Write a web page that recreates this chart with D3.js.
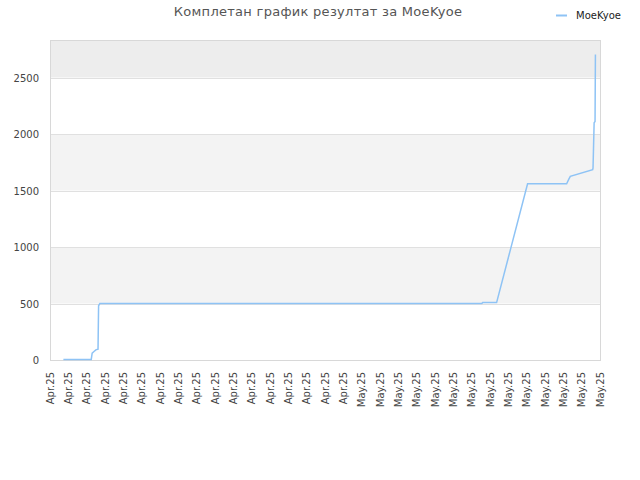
<!DOCTYPE html>
<html lang="sr">
<head>
<meta charset="utf-8">
<title>Комплетан график резултат за MoeKyoe</title>
<script src="https://cdn.jsdelivr.net/npm/d3@7"></script>
<style>
  body { margin: 0; background: #fff; }
  text { font-family: "DejaVu Sans", sans-serif; }
</style>
</head>
<body>
<div id="chart"></div>
<script>
// x tick labels (31 ticks, evenly spaced)
var xLabels = [
  "Apr.25","Apr.25","Apr.25","Apr.25","Apr.25","Apr.25","Apr.25","Apr.25",
  "Apr.25","Apr.25","Apr.25","Apr.25","Apr.25","Apr.25","Apr.25","Apr.25",
  "Apr.25","May.25","May.25","May.25","May.25","May.25","May.25","May.25",
  "May.25","May.25","May.25","May.25","May.25","May.25","May.25"
];
var yTicks = [0, 500, 1000, 1500, 2000, 2500];

// series, x in tick units
var seriesName = "MoeKyoe";
var xs = [0.73, 2.25, 2.3, 2.4, 2.5, 2.62, 2.65, 2.72, 23.55, 23.6, 24.36, 26.05, 28.18, 28.3, 28.38, 29.6, 29.62, 29.65, 29.68, 29.73, 29.75];
var ys = [5, 5, 60, 75, 90, 95, 480, 500, 500, 508, 508, 1560, 1560, 1600, 1625, 1684, 1700, 1900, 2100, 2110, 2704];

var W = 640, H = 480;
var m = {left: 50, right: 40, top: 40, bottom: 120};

var svg = d3.select("#chart").append("svg")
  .attr("width", W).attr("height", H);

var x = d3.scaleLinear().domain([0, xLabels.length - 1]).range([m.left, W - m.right]);
var y = d3.scaleLinear().domain([0, 2832]).range([H - m.bottom, m.top]);

// alternating bands
var bands = [];
for (var i = 0; i < yTicks.length; i++) {
  var lo = yTicks[i], hi = i + 1 < yTicks.length ? yTicks[i + 1] : y.domain()[1];
  bands.push({lo: lo, hi: hi, i: i});
}
svg.selectAll("rect.band").data(bands).enter().append("rect")
  .attr("class", "band")
  .attr("x", m.left)
  .attr("width", W - m.right - m.left)
  .attr("y", function(d) { return y(d.hi); })
  .attr("height", function(d) { return y(d.lo) - y(d.hi); })
  .attr("fill", function(d) {
    if (d.i == yTicks.length - 1) return "#ededed";
    return d.i % 2 ? "#f3f3f3" : "#fff";
  });

// grid lines
svg.selectAll("line.grid").data(yTicks).enter().append("line")
  .attr("x1", m.left).attr("x2", W - m.right)
  .attr("y1", function(d) { return Math.round(y(d)) + 0.5; })
  .attr("y2", function(d) { return Math.round(y(d)) + 0.5; })
  .attr("stroke", "#e0e0e0");

// plot border
svg.append("rect")
  .attr("x", m.left + 0.5).attr("y", m.top + 0.5)
  .attr("width", W - m.right - m.left).attr("height", H - m.bottom - m.top)
  .attr("fill", "none").attr("stroke", "#d8d8d8");

// y axis labels
svg.selectAll("text.ytick").data(yTicks).enter().append("text")
  .attr("x", 39)
  .attr("y", function(d) { return y(d) + 4; })
  .attr("text-anchor", "end")
  .attr("font-size", 10)
  .attr("fill", "#444")
  .text(function(d) { return d; });

// x axis labels
svg.selectAll("text.xtick").data(xLabels).enter().append("text")
  .attr("transform", function(d, i) { return "translate(" + (x(i) + 3.5) + ",372) rotate(-90)"; })
  .attr("text-anchor", "end")
  .attr("font-size", 10)
  .attr("fill", "#444")
  .text(function(d) { return d; });

// the line
var pts = xs.map(function(v, i) { return [v, ys[i]]; });
svg.append("path")
  .datum(pts)
  .attr("fill", "none")
  .attr("stroke", "#8ec3f5")
  .attr("stroke-width", 1.5)
  .attr("d", d3.line().x(function(d) { return x(d[0]); }).y(function(d) { return y(d[1]); }));

// title
svg.append("text")
  .attr("x", 318).attr("y", 16)
  .attr("text-anchor", "middle")
  .attr("font-size", 13)
  .attr("letter-spacing", 0.28)
  .attr("fill", "#555")
  .text("Комплетан график резултат за MoeKyoe");

// legend
svg.append("line")
  .attr("x1", 556).attr("x2", 567).attr("y1", 15.5).attr("y2", 15.5)
  .attr("stroke", "#8ec3f5").attr("stroke-width", 2);
svg.append("text")
  .attr("x", 576).attr("y", 19)
  .attr("font-size", 10)
  .attr("fill", "#222")
  .text(seriesName);
</script>
</body>
</html>
